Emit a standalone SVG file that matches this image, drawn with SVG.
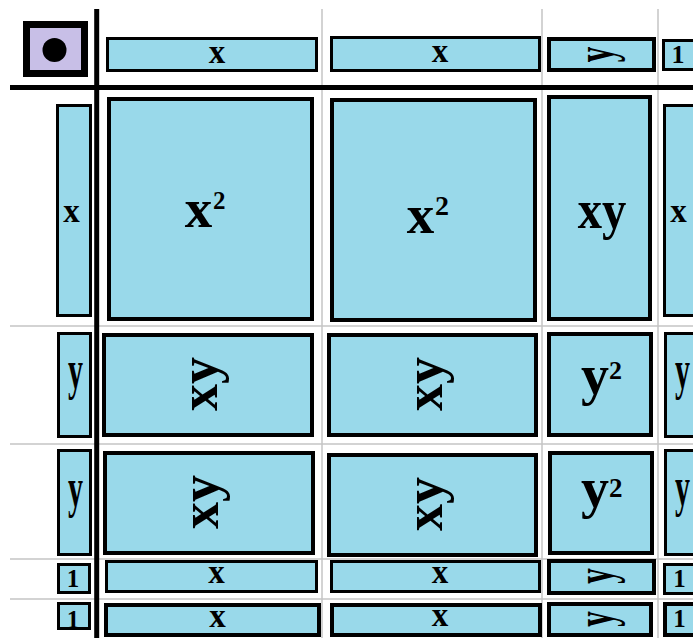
<svg xmlns="http://www.w3.org/2000/svg" width="693" height="638" viewBox="0 0 693 638">
<style>
.t{fill:#99D9EA;stroke:#000;stroke-width:3}
.k{fill:#99D9EA;stroke:#000;stroke-width:4}
.g{stroke:#C4C4C4;stroke-width:1.5;fill:none}
text{font-family:"Liberation Serif","Times New Roman",serif;font-weight:bold;fill:#000}
.m{text-anchor:middle}
</style>
<rect width="693" height="638" fill="#fff"/>
<g id="grid">
<line class="g" x1="322" y1="9" x2="322" y2="638"/>
<line class="g" x1="542" y1="9" x2="542" y2="638"/>
<line class="g" x1="658" y1="9" x2="658" y2="638"/>
<line class="g" x1="10" y1="326" x2="693" y2="326"/>
<line class="g" x1="10" y1="444" x2="693" y2="444"/>
<line class="g" x1="10" y1="559" x2="693" y2="559"/>
<line class="g" x1="10" y1="599" x2="693" y2="599"/>
<line x1="96.7" y1="9" x2="96.7" y2="638" stroke="#000" stroke-width="5"/>
<line x1="10" y1="87.5" x2="693" y2="87.5" stroke="#000" stroke-width="5"/>
</g>
<g id="corner">
<rect x="26.5" y="24.5" width="58" height="49" fill="#C8BFE7" stroke="#000" stroke-width="7"/>
<circle cx="54.5" cy="50" r="12" fill="#000"/>
</g>
<g id="top-x1"><rect class="t" x="107.5" y="38.5" width="209" height="32"/><text class="m" x="217" y="63" font-size="33">x</text></g>
<g id="top-x2"><rect class="t" x="331.5" y="37.5" width="208" height="33"/><text class="m" x="440" y="62" font-size="33">x</text></g>
<g id="top-y"><rect class="k" x="549" y="39" width="105" height="31"/><text class="m" font-size="31" transform="translate(604,54.5) rotate(-90) scale(1,1.8)" dy="5">y</text></g>
<g id="top-1"><rect class="t" x="663.5" y="40.5" width="40" height="29"/><text class="m" x="678" y="63" font-size="26">1</text></g>

<g id="r1-left"><rect class="t" x="57.5" y="105.5" width="33" height="210"/><text class="m" x="71.5" y="222" font-size="33">x</text></g>
<g id="r1-c1"><rect class="k" x="109" y="99" width="203" height="220"/><text class="m" x="198.5" y="227" font-size="55">x</text><text x="213" y="209" font-size="25">2</text></g>
<g id="r1-c2"><rect class="k" x="332" y="100" width="203" height="220"/><text class="m" x="420.5" y="233" font-size="55">x</text><text x="435" y="215" font-size="28">2</text></g>
<g id="r1-c3"><rect class="k" x="549" y="97" width="101" height="222"/><text class="m" font-size="54" transform="translate(602,228) scale(0.9,1)">xy</text></g>
<g id="r1-right"><rect class="t" x="664.5" y="105.5" width="40" height="210"/><text class="m" x="678.5" y="222" font-size="33">x</text></g>

<g id="r2-left"><rect class="t" x="58.5" y="333.5" width="32" height="103"/><text class="m" font-size="30" transform="translate(75.5,388) scale(1,1.8)">y</text></g>
<g id="r2-c1"><rect class="k" x="104" y="335" width="208" height="100"/><text class="m" font-size="54" transform="translate(217,384) rotate(-90)">xy</text></g>
<g id="r2-c2"><rect class="k" x="329" y="335" width="207" height="100"/><text class="m" font-size="54" transform="translate(442,384) rotate(-90)">xy</text></g>
<g id="r2-c3"><rect class="k" x="549" y="334" width="102" height="101"/><text x="581" y="394" font-size="56">y</text><text x="609" y="379" font-size="26">2</text></g>
<g id="r2-right"><rect class="t" x="665.5" y="333.5" width="40" height="103"/><text class="m" font-size="30" transform="translate(682.5,388) scale(1,1.8)">y</text></g>

<g id="r3-left"><rect class="t" x="58.5" y="450.5" width="32" height="104"/><text class="m" font-size="30" transform="translate(75.5,506) scale(1,1.8)">y</text></g>
<g id="r3-c1"><rect class="k" x="105" y="453" width="208" height="100"/><text class="m" font-size="54" transform="translate(218,502) rotate(-90)">xy</text></g>
<g id="r3-c2"><rect class="k" x="329" y="455" width="207" height="100"/><text class="m" font-size="54" transform="translate(442,504) rotate(-90)">xy</text></g>
<g id="r3-c3"><rect class="k" x="550" y="453" width="102" height="100"/><text x="581" y="507" font-size="56">y</text><text x="609" y="497" font-size="27">2</text></g>
<g id="r3-right"><rect class="t" x="665.5" y="450.5" width="40" height="104"/><text class="m" font-size="30" transform="translate(682.5,505) scale(1,1.8)">y</text></g>

<g id="r4-left"><rect class="t" x="58.5" y="564.5" width="31" height="28"/><text class="m" x="73" y="587" font-size="25">1</text></g>
<g id="r4-c1"><rect class="t" x="106.5" y="561.5" width="210" height="30"/><text class="m" x="216.5" y="583" font-size="33">x</text></g>
<g id="r4-c2"><rect class="t" x="331.5" y="561.5" width="208" height="30"/><text class="m" x="440" y="583" font-size="33">x</text></g>
<g id="r4-c3"><rect class="k" x="549" y="561" width="105" height="32"/><text class="m" font-size="31" transform="translate(604,576) rotate(-90) scale(1,1.8)" dy="5">y</text></g>
<g id="r4-right"><rect class="t" x="664.5" y="564.5" width="40" height="29"/><text class="m" x="679.5" y="587" font-size="25">1</text></g>

<g id="r5-left"><rect class="t" x="58.5" y="603.5" width="31" height="25"/><text class="m" x="73" y="628" font-size="25">1</text></g>
<g id="r5-c1"><rect class="k" x="106" y="605" width="213" height="30"/><text class="m" x="217.5" y="627" font-size="33">x</text></g>
<g id="r5-c2"><rect class="k" x="332" y="605" width="208" height="30"/><text class="m" x="440" y="626" font-size="33">x</text></g>
<g id="r5-c3"><rect class="k" x="549" y="604" width="102" height="31"/><text class="m" font-size="31" transform="translate(604,619) rotate(-90) scale(1,1.8)" dy="5">y</text></g>
<g id="r5-right"><rect class="k" x="665" y="604" width="40" height="31"/><text class="m" x="679.5" y="627" font-size="25">1</text></g>
</svg>
